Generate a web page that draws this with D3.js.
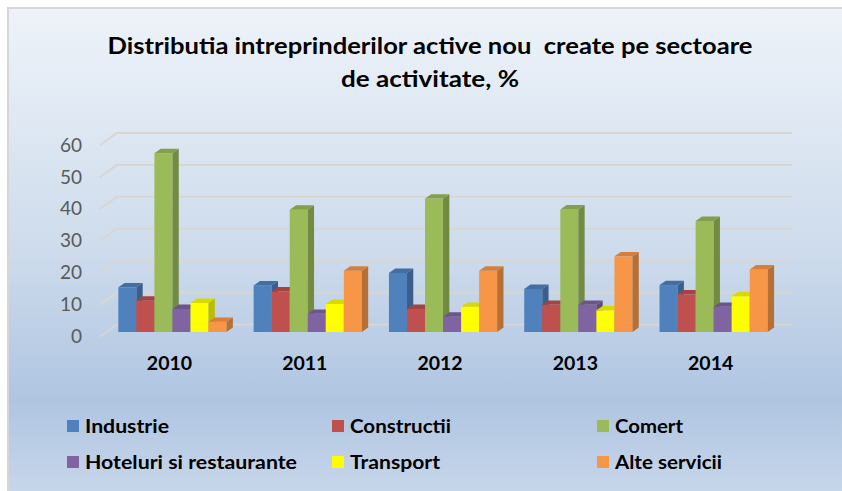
<!DOCTYPE html>
<html>
<head>
<meta charset="utf-8">
<script src="https://cdn.jsdelivr.net/npm/d3@7"></script>
<style>
  html, body { margin: 0; padding: 0; background: #ffffff; }
  svg { display: block; font-family: Lato, "Liberation Sans", Arial, sans-serif; }
  .title text { white-space: pre; }
</style>
</head>
<body>
<svg id="chart" width="842" height="491"></svg>
<script>
// Categories (years) and series shares, %
const years = ["2010", "2011", "2012", "2013", "2014"];
const seriesNames = ["Industrie", "Constructii", "Comert", "Hoteluri si restaurante", "Transport", "Alte servicii"];
const industrie   = [14.0, 14.6, 18.5, 13.5, 14.7];
const constructii = [9.8, 12.7, 7.2, 8.5, 11.8];
const comert      = [56.0, 38.3, 41.8, 38.4, 34.8];
const hoteluri    = [7.2, 5.7, 4.8, 8.5, 7.9];
const transport   = [9.1, 8.8, 7.9, 6.8, 11.2];
const alteServicii = [3.2, 19.2, 19.2, 23.7, 19.6];
const yTicks = [0, 10, 20, 30, 40, 50, 60];
const seriesColors = ["#4f81bd", "#c0504d", "#9bbb59", "#8064a2", "#ffff00", "#f79646"];
const titleLines = ["Distributia intreprinderilor active nou  create pe sectoare", "de activitate, %"];

const seriesValues = [industrie, constructii, comert, hoteluri, transport, alteServicii];

const svg = d3.select("#chart");

// Background panel with vertical gradient
const defs = svg.append("defs");
const grad = defs.append("linearGradient").attr("id", "bg").attr("x1", 0).attr("y1", 0).attr("x2", 0).attr("y2", 1);
[[0, "#eef3f9"], [0.5, "#cddbec"], [0.8, "#afc5e1"], [1, "#c9d8eb"]].forEach(([o, c]) =>
  grad.append("stop").attr("offset", o).attr("stop-color", c));

svg.append("rect").attr("x", 8).attr("y", 8).attr("width", 842).attr("height", 491)
  .attr("fill", "url(#bg)").attr("stroke", "#d6d6d6").attr("stroke-width", 2);

// Title
const title = svg.append("g").attr("class", "title").attr("font-weight", "bold").attr("fill", "#000")
  .attr("font-size", 23).attr("text-anchor", "middle");
title.append("text").attr("x", 430).attr("y", 53.5).attr("textLength", 645)
  .attr("lengthAdjust", "spacingAndGlyphs").text(titleLines[0]);
title.append("text").attr("x", 430).attr("y", 87).attr("textLength", 178)
  .attr("lengthAdjust", "spacingAndGlyphs").text(titleLines[1]);

// Scales: back wall value scale, category bands, series sub-bands
const y = d3.scaleLinear().domain([0, 60]).range([324.5, 133]);
const x = d3.scaleBand().domain(years).range([104.8, 781.3]).paddingInner(0.2).paddingOuter(0.1);
const xs = d3.scaleBand().domain(seriesNames).range([0, x.bandwidth()]);

// 3D projection offsets
const wallFront = 12, wallSlant = 17;     // floor depth of the wall gridlines
const barShift = 7.5;                     // front face of bars sits below the back wall line
const dx = 6.3, dy = 4.4;                 // bar depth

// Gridlines (slanted floor edge + back wall line)
const grid = svg.append("g").attr("stroke", "#d9d6d2").attr("stroke-width", 2).attr("fill", "none");
yTicks.forEach(t => {
  const yy = y(t);
  grid.append("path").attr("d", `M100,${yy + wallFront}L${100 + wallSlant},${yy}L792,${yy}`);
});

// Y axis labels
const yAxisScale = d3.scaleLinear().domain(y.domain()).range(y.range().map(v => v + wallFront));
const yAxis = svg.append("g").attr("transform", "translate(88,0)")
  .call(d3.axisLeft(yAxisScale).tickValues(yTicks).tickSize(0).tickPadding(6));
yAxis.select(".domain").remove();
yAxis.selectAll("text").attr("font-size", 19).attr("fill", "#595959")
  .attr("font-family", "Lato, 'Liberation Sans', Arial, sans-serif");

// Bars
const groups = svg.append("g").selectAll("g").data(years).join("g")
  .attr("transform", d => `translate(${x(d)},0)`);

groups.each(function(year, yi) {
  const g = d3.select(this);
  seriesNames.forEach((name, si) => {
    const v = seriesValues[si][yi];
    const x0 = xs(name), w = xs.bandwidth();
    const yb = y(0) + barShift, yt = y(v) + barShift;
    const c = d3.color(seriesColors[si]);
    const side = d3.color(c).darker(0.85);
    const top = d3.color(c).darker(0.45);
    g.append("rect").attr("x", x0).attr("y", yt).attr("width", w).attr("height", yb - yt)
      .attr("fill", c.formatHex());
    g.append("path")
      .attr("d", `M${x0 + w},${yt}L${x0 + w + dx},${yt - dy}L${x0 + w + dx},${yb - dy}L${x0 + w},${yb}Z`)
      .attr("fill", side.formatHex());
    g.append("path")
      .attr("d", `M${x0},${yt}L${x0 + dx},${yt - dy}L${x0 + w + dx},${yt - dy}L${x0 + w},${yt}Z`)
      .attr("fill", top.formatHex());
  });
});

// Category labels
const xAxis = svg.append("g").attr("transform", "translate(-3,370)")
  .call(d3.axisBottom(x).tickSize(0).tickPadding(0));
xAxis.select(".domain").remove();
xAxis.selectAll("text").attr("dy", 0).attr("y", 0).attr("font-size", 19.5).attr("font-weight", "bold")
  .attr("fill", "#000").attr("font-family", "Lato, 'Liberation Sans', Arial, sans-serif");

// Legend: two rows of three
const legendCols = [67, 332, 597];
const legendRows = [420, 456];
const legendWidths = [84, 101, 68, 212, 90, 107];
const legend = svg.append("g").selectAll("g").data(seriesNames).join("g")
  .attr("transform", (d, i) => `translate(${legendCols[i % 3]},${legendRows[Math.floor(i / 3)]})`);
legend.append("rect").attr("width", 12).attr("height", 12).attr("fill", (d, i) => seriesColors[i]);
legend.append("text").attr("x", 18).attr("y", 12.5).attr("font-size", 19).attr("font-weight", "bold")
  .attr("fill", "#000").attr("textLength", (d, i) => legendWidths[i]).attr("lengthAdjust", "spacingAndGlyphs")
  .text(d => d);
</script>
</body>
</html>
